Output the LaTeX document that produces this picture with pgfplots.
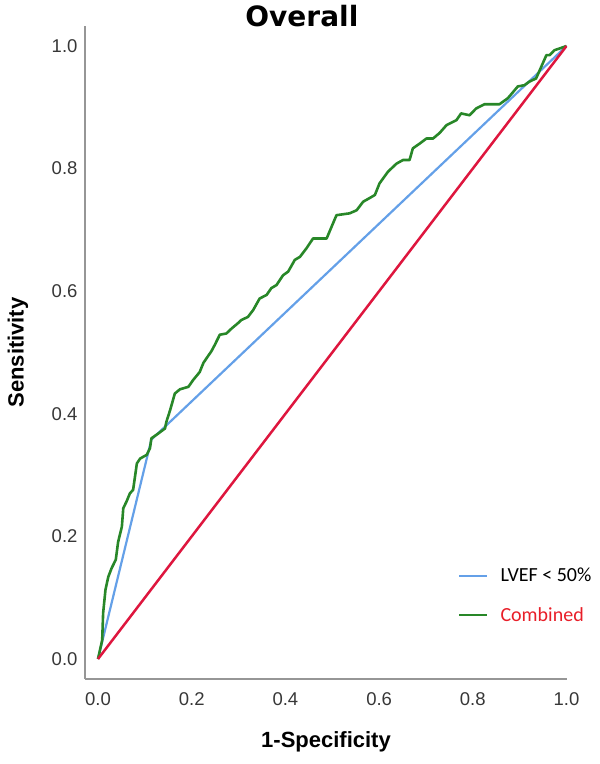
\documentclass[border=0pt]{standalone}
\usepackage{pgfplots}
\pgfplotsset{compat=1.18}
\usepackage{fontspec}
\setmainfont{Liberation Sans}
\newfontfamily\carlito{Carlito}
\newfontfamily\titlefont{DejaVu Sans}
\definecolor{rocblue}{RGB}{100,160,232}
\definecolor{rocgreen}{RGB}{40,135,40}
\definecolor{rocred}{RGB}{222,22,62}
\definecolor{legred}{RGB}{232,30,40}
\definecolor{axisgray}{RGB}{150,150,150}
\definecolor{ticktext}{RGB}{55,55,55}

\pgfplotstableread{
x y
0 0
0.009 0.031
0.011 0.075
0.016 0.113
0.022 0.134
0.029 0.148
0.038 0.162
0.043 0.191
0.051 0.216
0.054 0.246
0.061 0.257
0.068 0.270
0.075 0.276
0.083 0.319
0.090 0.327
0.104 0.333
0.111 0.344
0.114 0.360
0.129 0.368
0.143 0.376
0.146 0.387
0.154 0.406
0.164 0.433
0.175 0.440
0.193 0.444
0.203 0.455
0.217 0.468
0.225 0.483
0.232 0.491
0.242 0.502
0.249 0.512
0.260 0.529
0.274 0.531
0.285 0.539
0.299 0.548
0.306 0.553
0.320 0.558
0.331 0.569
0.345 0.588
0.360 0.594
0.370 0.605
0.381 0.610
0.395 0.626
0.406 0.632
0.420 0.651
0.431 0.656
0.445 0.670
0.459 0.686
0.488 0.686
0.509 0.724
0.537 0.727
0.552 0.732
0.566 0.746
0.580 0.752
0.591 0.757
0.601 0.776
0.619 0.795
0.637 0.808
0.651 0.814
0.665 0.814
0.672 0.833
0.687 0.841
0.701 0.849
0.715 0.849
0.729 0.858
0.744 0.871
0.765 0.879
0.775 0.890
0.793 0.887
0.807 0.898
0.825 0.905
0.857 0.905
0.875 0.915
0.896 0.934
0.910 0.936
0.921 0.942
0.935 0.947
0.957 0.985
0.964 0.985
0.974 0.993
0.989 0.997
1.000 1.000
}\combined

\begin{document}
\begin{tikzpicture}[x=1pt,y=1pt]
\useasboundingbox (0,0) rectangle (600,764);
\begin{axis}[
  at={(85pt,85pt)}, anchor=south west,
  scale only axis, width=482pt, height=653pt,
  xmin=-0.0277, xmax=1.001, ymin=-0.0326, ymax=1.0326,
  axis x line=bottom, axis y line=left,
  axis line style={axisgray, line width=1.4pt, -},
  major tick length=0pt,
  /pgf/number format/assume math mode=true,
  xtick={0,0.2,0.4,0.6,0.8,1},
  xticklabels={0.0,0.2,0.4,0.6,0.8,1.0},
  ytick={0,0.2,0.4,0.6,0.8,1},
  yticklabels={0.0,0.2,0.4,0.6,0.8,1.0},
  ticklabel style={font=\fontsize{18.5}{22}\selectfont, text=ticktext},
  xticklabel style={yshift=-10pt},
  yticklabel style={xshift=-4pt},
  title={Overall},
  title style={font=\titlefont\bfseries\fontsize{28}{32}\selectfont, at={(axis description cs:0.45,1.006)}, anchor=center},
  xlabel={1-Specificity},
  xlabel style={font=\bfseries\fontsize{22}{26}\selectfont, at={(axis description cs:0.5,-0.0965)}, anchor=center},
  ylabel={Sensitivity},
  ylabel style={font=\bfseries\fontsize{22}{26}\selectfont, at={(axis description cs:-0.139,0.5)}, anchor=center},
  legend style={draw=none, fill=none, at={(axis cs:0.7614,0.155)}, anchor=north west,
    font=\carlito\fontsize{20}{24}\selectfont, row sep=20pt,
    legend cell align=left},
  legend image code/.code={\draw[#1] (0pt,0pt) -- (28pt,0pt); \path (38pt,0pt);},
]
\addplot[rocblue, line width=2.2pt] coordinates {(0,0) (0.114,0.358) (1,1)};
\addlegendentry{LVEF < 50\%}
\addplot[rocgreen, line width=2.6pt, line join=round] table[x=x,y=y] {\combined};
\addlegendentry{\textcolor{legred}{Combined}}
\addplot[rocred, line width=2.5pt, forget plot] coordinates {(0,0) (1,1)};
\end{axis}
\end{tikzpicture}
\end{document}
